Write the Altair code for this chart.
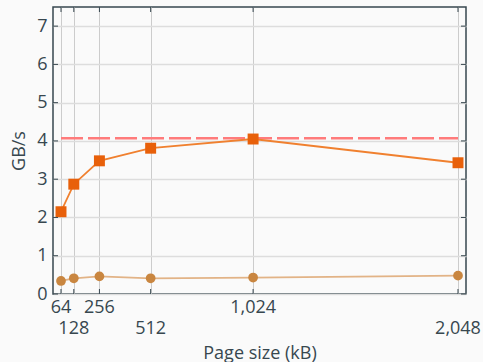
import altair as alt
import pandas as pd

# Page sizes (kB) and measured throughput (GB/s)
page_sizes = [64, 128, 256, 512, 1024, 2048]
fast_series = [2.15, 2.87, 3.48, 3.81, 4.05, 3.43]
slow_series = [0.34, 0.41, 0.46, 0.41, 0.43, 0.48]
peak_bandwidth = 4.07

label_row1 = [64, 256, 1024]
label_row2 = [128, 512, 2048]
y_ticks = [0, 1, 2, 3, 4, 5, 6, 7]

W, H = 413, 287
FONT = "Open Sans"
INK = "#37474f"

df = pd.DataFrame({"size": page_sizes, "fast": fast_series, "slow": slow_series})
peak_df = pd.DataFrame({"size": [page_sizes[0], page_sizes[-1]], "bw": [peak_bandwidth] * 2})
row1_df = pd.DataFrame({"size": label_row1, "txt": [f"{v:,}" for v in label_row1]})
row2_df = pd.DataFrame({"size": label_row2, "txt": [f"{v:,}" for v in label_row2]})
xt_df = pd.DataFrame({"size": page_sizes})
yt_df = pd.DataFrame({"v": y_ticks})

xs = alt.Scale(domain=[24, 2088], nice=False, zero=False)
ys = alt.Scale(domain=[0, 7.5], nice=False)

x_axis = alt.Axis(values=page_sizes, labels=False, ticks=False, domain=False,
                  grid=True, gridColor="#cccccc", gridWidth=1,
                  title="Page size (kB)", titleFont=FONT, titleFontSize=18,
                  titleFontWeight="normal", titleColor=INK,
                  titleY=64, titleBaseline="alphabetic")
y_axis = alt.Axis(values=y_ticks, ticks=False, domain=False, grid=True,
                  gridColor="#dddddd", gridWidth=1.5,
                  labelFont=FONT, labelFontSize=18, labelColor=INK, labelPadding=6,
                  title="GB/s", titleFont=FONT, titleFontSize=18,
                  titleFontWeight="normal", titleColor=INK, titlePadding=8)

base = alt.Chart(df)

# invisible layer carrying the axes and grid
frame = base.mark_point(opacity=0).encode(
    x=alt.X("size:Q", scale=xs, axis=x_axis),
    y=alt.Y("fast:Q", scale=ys, axis=y_axis),
)

peak = alt.Chart(peak_df).mark_line(color="#ff7b7b", strokeWidth=2.5, strokeDash=[22, 5]).encode(
    x=alt.X("size:Q", scale=xs), y=alt.Y("bw:Q", scale=ys))

slow_line = base.mark_line(color="#e2b386", strokeWidth=1.8).encode(
    x=alt.X("size:Q", scale=xs), y=alt.Y("slow:Q", scale=ys))
slow_pts = base.mark_circle(color="#c98640", size=95, opacity=1).encode(
    x=alt.X("size:Q", scale=xs), y=alt.Y("slow:Q", scale=ys))

fast_line = base.mark_line(color="#f0802f", strokeWidth=1.8).encode(
    x=alt.X("size:Q", scale=xs), y=alt.Y("fast:Q", scale=ys))
fast_pts = base.mark_square(color="#e8600a", size=120, opacity=1).encode(
    x=alt.X("size:Q", scale=xs), y=alt.Y("fast:Q", scale=ys))

# inward tick marks on the frame
tick_bottom = alt.Chart(xt_df).mark_rule(color=INK, strokeWidth=1).encode(
    x=alt.X("size:Q", scale=xs), y=alt.value(H), y2=alt.value(H - 5))
tick_top = alt.Chart(xt_df).mark_rule(color=INK, strokeWidth=1).encode(
    x=alt.X("size:Q", scale=xs), y=alt.value(0), y2=alt.value(5))
tick_left = alt.Chart(yt_df).mark_rule(color=INK, strokeWidth=1).encode(
    y=alt.Y("v:Q", scale=ys), x=alt.value(0), x2=alt.value(5))
tick_right = alt.Chart(yt_df).mark_rule(color=INK, strokeWidth=1).encode(
    y=alt.Y("v:Q", scale=ys), x=alt.value(W - 5), x2=alt.value(W))

# staggered x tick labels
lab1 = alt.Chart(row1_df).mark_text(font=FONT, fontSize=18, color=INK, baseline="middle").encode(
    x=alt.X("size:Q", scale=xs), y=alt.value(H + 14), text="txt:N")
lab2 = alt.Chart(row2_df).mark_text(font=FONT, fontSize=18, color=INK, baseline="middle").encode(
    x=alt.X("size:Q", scale=xs), y=alt.value(H + 35), text="txt:N")

chart = alt.layer(
    frame, peak, slow_line, slow_pts, fast_line, fast_pts,
    tick_bottom, tick_top, tick_left, tick_right, lab1, lab2,
).properties(
    width=W, height=H,
    autosize=alt.AutoSizeParams(type="none"),
    padding={"left": 53, "top": 7, "right": 17, "bottom": 68},
    background="#fafafa",
).configure_view(
    fill="#fafafa", stroke=INK, strokeWidth=1.5,
)

chart.save("out.html", embed_options={"renderer": "svg", "actions": False})
